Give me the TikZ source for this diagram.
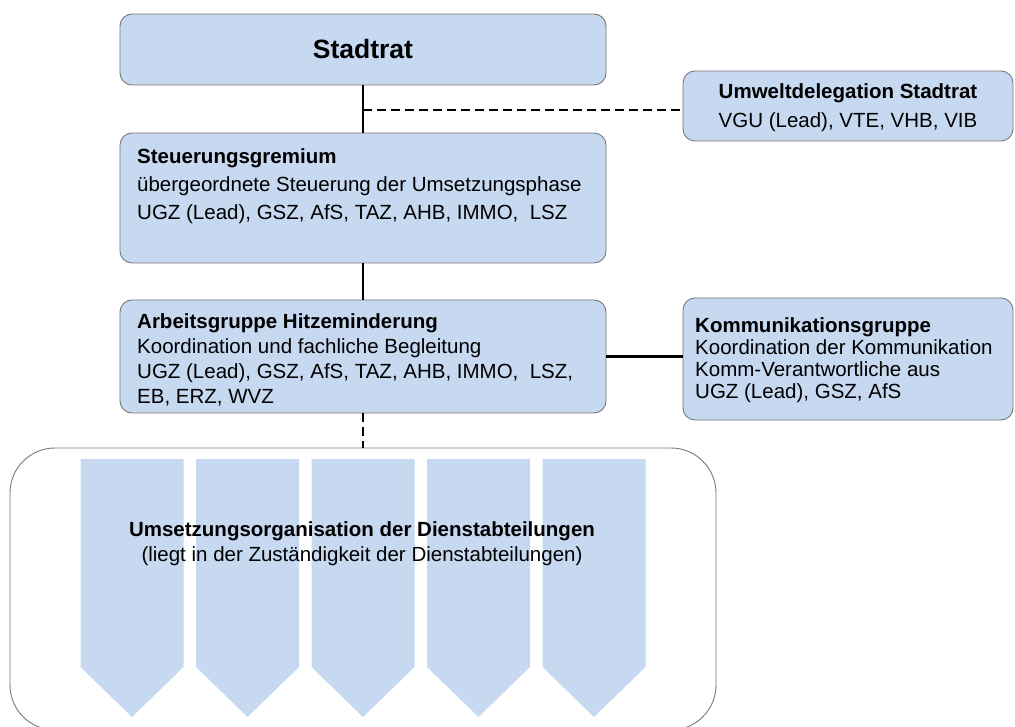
\documentclass[tikz,border=0pt]{standalone}
\usepackage{fontspec}
\setmainfont{Liberation Sans}
\usetikzlibrary{positioning}

\definecolor{boxblue}{RGB}{198,217,240}
\definecolor{boxgray}{RGB}{120,120,120}

\tikzset{
  orgbox/.style={draw=boxgray, fill=boxblue, line width=0.9pt, rounded corners=12pt, inner sep=0pt},
  orgtext/.style={anchor=north west, align=left, inner sep=0pt},
  link/.style={line width=2.6pt},
  dashlink/.style={line width=2.6pt, dash pattern=on 9pt off 5pt},
}

\begin{document}
\begin{tikzpicture}[x=1pt, y=-1pt]
  \clip (0,0) rectangle (1015,727);

  % boxes
  \node[orgbox, minimum width=486pt, minimum height=71pt, font={\fontsize{26.5}{30}\selectfont\bfseries}] (stadtrat) at (363,49.5) {Stadtrat};
  \node[orgbox, minimum width=330pt, minimum height=70pt] (umwelt) at (848,106) {};
  \node[orgbox, minimum width=486pt, minimum height=130pt] (steuerung) at (363,198) {};
  \node[orgbox, minimum width=486pt, minimum height=113pt] (ag) at (363,356.5) {};
  \node[orgbox, minimum width=330pt, minimum height=122pt] (komm) at (848,359) {};
  \node[draw=boxgray, line width=0.9pt, rounded corners=45pt, minimum width=706pt, minimum height=282pt] (umsetzung) at (363,589) {};

  % Dienstabteilungen
  \foreach \i in {0,...,4}
    \fill[boxblue] (80.5+115.5*\i,459) -- ++(103,0) -- ++(0,208) -- ++(-51.5,50) -- ++(-51.5,-50) -- cycle;

  % texts
  \node[anchor=north, align=center, inner sep=0pt, font={\fontsize{20.5}{29}\selectfont}] (umwelttxt) at (848,83.3)
    {\textbf{Umweltdelegation Stadtrat}\\VGU (Lead), VTE, VHB, VIB};
  \node[orgtext, font={\fontsize{20.5}{28}\selectfont}] (steuerungtxt) at (137,148.3)
    {\textbf{Steuerungsgremium}\\übergeordnete Steuerung der Umsetzungsphase\\UGZ (Lead), GSZ, AfS, TAZ, AHB, IMMO, \ LSZ};
  \node[orgtext, font={\fontsize{20.5}{25}\selectfont}] (agtxt) at (137,313.3)
    {\textbf{Arbeitsgruppe Hitzeminderung}\\Koordination und fachliche Begleitung\\UGZ (Lead), GSZ, AfS, TAZ, AHB, IMMO, \ LSZ,\\EB, ERZ, WVZ};
  \node[orgtext, font={\fontsize{20.5}{22}\selectfont}] (kommtxt) at (695,317.3)
    {\textbf{Kommunikationsgruppe}\\Koordination der Kommunikation\\Komm-Verantwortliche aus\\UGZ (Lead), GSZ, AfS};
  \node[anchor=north, align=center, inner sep=0pt, font={\fontsize{20.5}{25}\selectfont}] (umsetzungtxt) at (362,521)
    {\textbf{Umsetzungsorganisation der Dienstabteilungen}\\(liegt in der Zuständigkeit der Dienstabteilungen)};

  % connectors
  \coordinate (abzweig) at (363,110);
  \draw[link] (stadtrat.south) -- (steuerung.north);
  \draw[dashlink] (abzweig) -- (abzweig -| umwelt.west);
  \draw[link] (steuerung.south) -- (ag.north);
  \draw[link] (ag.east) -- (ag.east -| komm.west);
  \draw[dashlink] (ag.south) -- (umsetzung.north);
\end{tikzpicture}
\end{document}
